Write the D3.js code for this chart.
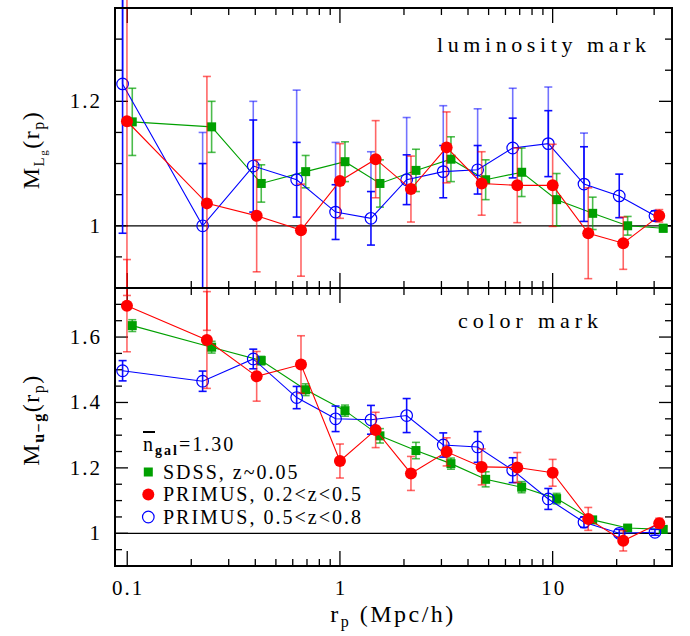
<!DOCTYPE html>
<html>
<head>
<meta charset="utf-8">
<script src="https://cdn.jsdelivr.net/npm/d3@7"></script>
<style>
  html, body { margin: 0; padding: 0; background: #fff; }
</style>
</head>
<body>
<script>
// ---------------- data ----------------
const rpSDSS = [0.1056, 0.2493, 0.4266, 0.690, 1.056, 1.542, 2.277, 3.326, 4.842, 7.149, 10.44, 15.42, 22.52, 33.1];
const rpP1   = [0.0997, 0.2369, 0.406, 0.656, 1.0, 1.472, 2.157, 3.174, 4.637, 6.818, 10.0, 14.7, 21.47, 31.7];
const rpP2   = [0.0951, 0.2262, 0.3913, 0.626, 0.954, 1.399, 2.059, 3.06, 4.44, 6.49, 9.54, 14.04, 20.56, 30.27];

// luminosity mark (top panel)
const lumSDSS    = [1.167, 1.159, 1.068, 1.087, 1.103, 1.068, 1.089, 1.107, 1.074, 1.086, 1.042, 1.020, 1.000, 0.996];
const lumSDSSErr = [0.054, 0.041, 0.030, 0.026, 0.032, 0.038, 0.034, 0.036, 0.032, 0.039, 0.042, 0.026, 0.015, 0.006];
const lumP1      = [1.168, 1.036, 1.016, 0.993, 1.072, 1.107, 1.059, 1.126, 1.068, 1.065, 1.065, 0.988, 0.972, 1.016];
const lumP1Err   = [0.28, 0.204, 0.090, 0.074, 0.060, 0.062, 0.053, 0.057, 0.051, 0.060, 0.066, 0.073, 0.042, 0.010];
const lumP2      = [1.228, 1.000, 1.096, 1.074, 1.022, 1.012, 1.074, 1.087, 1.090, 1.125, 1.132, 1.067, 1.048, 1.016];
const lumP2Err   = [0.24, 0.10, 0.074, 0.060, 0.044, 0.043, 0.040, 0.042, 0.039, 0.048, 0.053, 0.060, 0.035, 0.008];
const lumP2ErrUp = [0.24, 0.15, 0.104, 0.144, 0.112, 0.107, 0.100, 0.106, 0.098, 0.096, 0.091, 0.082, 0, 0];

// color mark (bottom panel)
const colSDSS    = [1.635, 1.569, 1.528, 1.439, 1.375, 1.298, 1.253, 1.213, 1.165, 1.141, 1.106, 1.041, 1.016, 1.012];
const colSDSSErr = [0.018, 0.018, 0.013, 0.018, 0.017, 0.022, 0.025, 0.017, 0.023, 0.017, 0.016, 0.008, 0.006, 0.008];
const colP1      = [1.696, 1.591, 1.480, 1.516, 1.221, 1.316, 1.183, 1.249, 1.203, 1.201, 1.185, 1.044, 0.977, 1.031];
const colP1Err   = [0.141, 0.148, 0.076, 0.088, 0.052, 0.054, 0.052, 0.043, 0.055, 0.046, 0.041, 0.035, 0.031, 0.015];
const colP2      = [1.497, 1.465, 1.533, 1.415, 1.350, 1.347, 1.360, 1.270, 1.264, 1.193, 1.105, 1.034, 1.000, 1.003];
const colP2Err   = [0.031, 0.031, 0.030, 0.034, 0.039, 0.044, 0.052, 0.037, 0.047, 0.038, 0.032, 0.016, 0.012, 0.009];

const xTickLabels   = [0.1, 1, 10];
const yTopLabels    = [1, 1.2];
const yBottomLabels = [1, 1.2, 1.4, 1.6];
const legendLabels  = ["SDSS, z~0.05", "PRIMUS, 0.2<z<0.5", "PRIMUS, 0.5<z<0.8"];

// ---------------- layout ----------------
const W = 690, H = 636;
const L = 115, R = 672, T = 8, M = 288, B = 566;
const cGreen = "#00a000", cRed = "#ff0000", cBlue = "#0000ff";
const FONT = '"Liberation Serif"';

const svg = d3.select("body").append("svg").attr("width", W).attr("height", H);

const x = d3.scaleLog().domain([0.0876, 36.4]).range([L, R]);
const yTop = d3.scaleLinear().domain([0.9, 1.35]).range([M, T]);
const yBot = d3.scaleLinear().domain([0.9, 1.75]).range([B, M]);

const xMinor = [];
[0.1, 1, 10].forEach(d => { for (let k = 2; k <= 9; k++) { const v = d * k; if (v < 36.4) xMinor.push(v); } });
function yMinors(lo, hi) { const a = []; for (let v = lo; v <= hi + 1e-9; v += 0.05) a.push(+v.toFixed(2)); return a; }

function txt(sel) { return sel.append("text").style("font-family", FONT).attr("fill", "#000"); }

function drawPanel(y, y0, y1, majors) {
  const g = svg.append("g");
  const top = y.range()[1], bot = y.range()[0];
  g.append("line").attr("x1", L).attr("x2", R).attr("y1", y(1)).attr("y2", y(1))
    .attr("stroke", "#000").attr("stroke-width", 1.2);
  const xt = [...xTickLabels.map(v => ({ v, len: 15 })), ...xMinor.map(v => ({ v, len: 7 }))];
  xt.forEach(t => {
    g.append("line").attr("x1", x(t.v)).attr("x2", x(t.v)).attr("y1", bot).attr("y2", bot - t.len)
      .attr("stroke", "#000").attr("stroke-width", 1.3);
    g.append("line").attr("x1", x(t.v)).attr("x2", x(t.v)).attr("y1", top).attr("y2", top + t.len)
      .attr("stroke", "#000").attr("stroke-width", 1.3);
  });
  yMinors(y0, y1).forEach(v => {
    const isMaj = majors.some(m => Math.abs(m - v) < 1e-6);
    const len = isMaj ? 13 : 7;
    g.append("line").attr("x1", L).attr("x2", L + len).attr("y1", y(v)).attr("y2", y(v))
      .attr("stroke", "#000").attr("stroke-width", 1.3);
    g.append("line").attr("x1", R).attr("x2", R - len).attr("y1", y(v)).attr("y2", y(v))
      .attr("stroke", "#000").attr("stroke-width", 1.3);
  });
  majors.forEach(v => {
    txt(g).attr("x", 102).attr("y", y(v) + 7).attr("text-anchor", "end")
      .attr("font-size", 21).attr("letter-spacing", "2px").text(d3.format("")(v));
  });
  return g;
}

function drawSeries(y, rp, vals, errs, errsUp, color, marker, barOpacity) {
  const g = svg.append("g");
  const cap = 4;
  if (errsUp) {
    vals.forEach((v, i) => {
      if (!errsUp[i]) return;
      const px = x(rp[i]);
      const yh = y(v + errsUp[i]);
      g.append("line").attr("x1", px).attr("x2", px).attr("y1", y(v)).attr("y2", yh)
        .attr("stroke", color).attr("stroke-opacity", 0.55).attr("stroke-width", 1.6);
      g.append("line").attr("x1", px - cap).attr("x2", px + cap).attr("y1", yh).attr("y2", yh)
        .attr("stroke", color).attr("stroke-opacity", 0.55).attr("stroke-width", 1.6);
    });
  }
  vals.forEach((v, i) => {
    const px = x(rp[i]);
    const yl = y(v - errs[i]), yh = y(v + errs[i]);
    g.append("line").attr("x1", px).attr("x2", px).attr("y1", yl).attr("y2", yh)
      .attr("stroke", color).attr("stroke-opacity", barOpacity).attr("stroke-width", 1.6);
    [yl, yh].forEach(yy => g.append("line").attr("x1", px - cap).attr("x2", px + cap).attr("y1", yy).attr("y2", yy)
      .attr("stroke", color).attr("stroke-opacity", barOpacity).attr("stroke-width", 1.6));
  });
  const line = d3.line().x((d, i) => x(rp[i])).y(d => y(d));
  g.append("path").attr("d", line(vals)).attr("fill", "none").attr("stroke", color).attr("stroke-width", 1.1);
  vals.forEach((v, i) => drawMarker(g, x(rp[i]), y(v), marker, color));
}

function drawMarker(g, px, py, marker, color) {
  if (marker === "square") {
    g.append("rect").attr("x", px - 4.5).attr("y", py - 4.5).attr("width", 9).attr("height", 9).attr("fill", color);
  } else if (marker === "dot") {
    g.append("circle").attr("cx", px).attr("cy", py).attr("r", 6).attr("fill", color);
  } else {
    g.append("circle").attr("cx", px).attr("cy", py).attr("r", 5.8).attr("fill", "none")
      .attr("stroke", color).attr("stroke-width", 1.2);
  }
}

drawPanel(yTop, 0.9, 1.35, yTopLabels);
drawPanel(yBot, 0.9, 1.75, yBottomLabels);

drawSeries(yTop, rpSDSS, lumSDSS, lumSDSSErr, null, cGreen, "square", 0.7);
drawSeries(yTop, rpP2, lumP2, lumP2Err, lumP2ErrUp, cBlue, "open", 0.95);
drawSeries(yTop, rpP1, lumP1, lumP1Err, null, cRed, "dot", 0.6);
drawSeries(yBot, rpSDSS, colSDSS, colSDSSErr, null, cGreen, "square", 0.7);
drawSeries(yBot, rpP2, colP2, colP2Err, null, cBlue, "open", 0.95);
drawSeries(yBot, rpP1, colP1, colP1Err, null, cRed, "dot", 0.6);

[[T, M], [M, B]].forEach(([a, b]) => {
  svg.append("rect").attr("x", L).attr("y", a).attr("width", R - L).attr("height", b - a)
    .attr("fill", "none").attr("stroke", "#000").attr("stroke-width", 2);
});

xTickLabels.forEach(v => {
  txt(svg).attr("x", x(v) + 1).attr("y", 595).attr("text-anchor", "middle")
    .attr("font-size", 21).attr("letter-spacing", "2px").text(d3.format("")(v));
});

txt(svg).attr("x", 437).attr("y", 52).attr("font-size", 22)
  .attr("textLength", 209).attr("lengthAdjust", "spacing").text("luminosity mark");
txt(svg).attr("x", 458).attr("y", 328).attr("font-size", 22)
  .attr("textLength", 140).attr("lengthAdjust", "spacing").text("color mark");

const xt = txt(svg).attr("x", 393).attr("y", 622).attr("text-anchor", "middle")
  .attr("font-size", 24).attr("letter-spacing", "2.5px");
xt.append("tspan").text("r");
xt.append("tspan").attr("font-size", 16).attr("dy", 5).text("p");
xt.append("tspan").attr("dy", -5).text(" (Mpc/h)");

function yTitle(cy, sub, subsub) {
  const t = txt(svg).attr("transform", `translate(39,${cy}) rotate(-90)`)
    .attr("text-anchor", "middle").attr("font-size", 24).attr("letter-spacing", "1.5px");
  t.append("tspan").text("M");
  if (subsub) {
    t.append("tspan").attr("font-size", 15).attr("dy", 5).text(sub);
    t.append("tspan").attr("font-size", 11).attr("dy", 3).text(subsub);
    t.append("tspan").attr("dy", -8).text("(r");
  } else {
    t.append("tspan").attr("font-size", 16).attr("font-weight", "bold").attr("dy", 5).text(sub);
    t.append("tspan").attr("dy", -5).text("(r");
  }
  t.append("tspan").attr("font-size", 16).attr("dy", 5).text("p");
  t.append("tspan").attr("dy", -5).text(")");
}
yTitle(150, "L", "g");
yTitle(420, "u\u2212g", null);

const lg = svg.append("g");
const nt = txt(lg).attr("x", 143).attr("y", 451).attr("font-size", 20).attr("letter-spacing", "2px");
nt.append("tspan").attr("text-decoration", "overline").text("n");
nt.append("tspan").attr("font-size", 14).attr("font-weight", "bold").attr("dy", 4).text("gal");
nt.append("tspan").attr("dy", -4).text("=1.30");
const legMarkers = [["square", cGreen], ["dot", cRed], ["open", cBlue]];
legendLabels.forEach((lab, i) => {
  const yy = 472 + i * 22.5;
  drawMarker(lg, 148.3, yy, legMarkers[i][0], legMarkers[i][1]);
  txt(lg).attr("x", 163).attr("y", yy + 6.5).attr("font-size", 20)
    .attr("letter-spacing", "2px").text(lab);
});
</script>
</body>
</html>
